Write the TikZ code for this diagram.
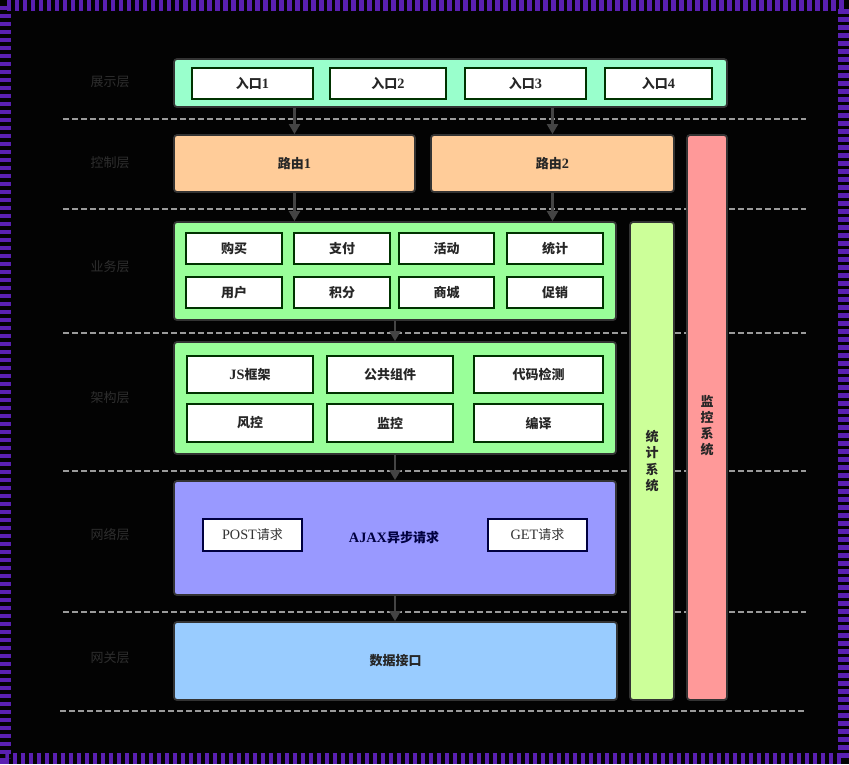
\documentclass[tikz,border=0pt]{standalone}
\usepackage{fontspec}
\setmainfont[Scale=1.1]{Liberation Serif}
\newfontfamily\cjk{Noto Sans CJK SC}
\newcommand{\zh}[1]{{\cjk #1}}
\usetikzlibrary{arrows.meta}
\definecolor{bgblack}{HTML}{030303}
\definecolor{frame}{HTML}{5A20B2}
\definecolor{sepgray}{HTML}{9A9A9A}
\definecolor{mint}{HTML}{99FFCC}
\definecolor{peach}{HTML}{FFCC99}
\definecolor{lgreen}{HTML}{99FF99}
\definecolor{lime}{HTML}{CCFF99}
\definecolor{pink}{HTML}{FF9999}
\definecolor{lav}{HTML}{9999FF}
\definecolor{sky}{HTML}{99CCFF}
\definecolor{edge}{HTML}{333333}
\definecolor{laytxt}{HTML}{2E2E2E}
\definecolor{arrowc}{HTML}{444444}
\tikzset{
  txt/.style={font=\fontsize{13}{16}\selectfont\bfseries, text=black!85},
  cont/.style={draw=edge, line width=1.8pt, rounded corners=3pt, inner sep=0pt, txt},
  ibox/.style={draw=black!80!green, line width=1.8pt, fill=white, inner sep=0pt, txt},
  nbox/.style={draw=black!75!blue, line width=1.8pt, fill=white, inner sep=0pt,
    font=\fontsize{13}{16}\selectfont, text=black!80},
  layer/.style={font=\fontsize{13}{16}\selectfont, text=laytxt},
  sep/.style={draw=sepgray, line width=1.4pt, dash pattern=on 6pt off 3pt},
  arr/.style={draw=arrowc, line width=2.2pt, -{Triangle[length=10pt,width=11pt]}},
}
\begin{document}
\begin{tikzpicture}[x=1pt,y=-1pt]
\useasboundingbox (0,0) rectangle (849,764);
\fill[bgblack] (0,0) rectangle (849,764);
\draw[frame, line width=11pt, dash pattern=on 4.5pt off 3.5pt] (5.5,5.5) rectangle (843.5,758.5);

% separators
\draw[sep] (63,119) -- (806,119);
\draw[sep] (63,209) -- (806,209);
\draw[sep] (63,333) -- (806,333);
\draw[sep] (63,471) -- (806,471);
\draw[sep] (63,612) -- (806,612);
\draw[sep] (60,711) -- (806,711);

% layer labels
\node[layer] (l1) at (110,82) {\zh{展示层}};
\node[layer] (l2) at (110,163) {\zh{控制层}};
\node[layer] (l3) at (110,267) {\zh{业务层}};
\node[layer] (l4) at (110,398) {\zh{架构层}};
\node[layer] (l5) at (110,535) {\zh{网络层}};
\node[layer] (l6) at (110,658) {\zh{网关层}};

% presentation layer
\node[cont, fill=mint, minimum width=553pt, minimum height=48pt] (sc) at (450.5,83) {};
\node[ibox, minimum width=121pt, minimum height=31pt] (e1) at (252.5,83.5) {\zh{入口}1};
\node[ibox, minimum width=116pt, minimum height=31pt] (e2) at (388,83.5) {\zh{入口}2};
\node[ibox, minimum width=121pt, minimum height=31pt] (e3) at (525.5,83.5) {\zh{入口}3};
\node[ibox, minimum width=107pt, minimum height=31pt] (e4) at (658.5,83.5) {\zh{入口}4};

% control layer
\node[cont, fill=peach, minimum width=241pt, minimum height=57pt] (r1) at (294.5,163.5) {\zh{路由}1};
\node[cont, fill=peach, minimum width=243pt, minimum height=57pt] (r2) at (552.5,163.5) {\zh{路由}2};

% side columns
\node[cont, fill=pink, minimum width=40pt, minimum height=565pt] (mon) at (707,417.5) {};
\node[txt, align=center, font=\fontsize{13}{16}\selectfont\bfseries] (monl) at (707,426) {\zh{监}\\\zh{控}\\\zh{系}\\\zh{统}};
\node[cont, fill=lime, minimum width=44pt, minimum height=478pt] (stat) at (652,461) {};
\node[txt, align=center, font=\fontsize{13}{16.5}\selectfont\bfseries] (statl) at (652,461) {\zh{统}\\\zh{计}\\\zh{系}\\\zh{统}};

% business layer
\node[cont, fill=lgreen, minimum width=442pt, minimum height=98pt] (biz) at (395,271) {};
\node[ibox, minimum width=96pt, minimum height=31pt] (b1) at (234,248.5) {\zh{购买}};
\node[ibox, minimum width=96pt, minimum height=31pt] (b2) at (342,248.5) {\zh{支付}};
\node[ibox, minimum width=95pt, minimum height=31pt] (b3) at (446.5,248.5) {\zh{活动}};
\node[ibox, minimum width=96pt, minimum height=31pt] (b4) at (555,248.5) {\zh{统计}};
\node[ibox, minimum width=96pt, minimum height=31pt] (b5) at (234,292.5) {\zh{用户}};
\node[ibox, minimum width=96pt, minimum height=31pt] (b6) at (342,292.5) {\zh{积分}};
\node[ibox, minimum width=95pt, minimum height=31pt] (b7) at (446.5,292.5) {\zh{商城}};
\node[ibox, minimum width=96pt, minimum height=31pt] (b8) at (555,292.5) {\zh{促销}};

% architecture layer
\node[cont, fill=lgreen, minimum width=442pt, minimum height=112pt] (arch) at (395,398) {};
\node[ibox, minimum width=126pt, minimum height=37pt] (a1) at (250,374.5) {JS\zh{框架}};
\node[ibox, minimum width=126pt, minimum height=37pt] (a2) at (390,374.5) {\zh{公共组件}};
\node[ibox, minimum width=129pt, minimum height=37pt] (a3) at (538.5,374.5) {\zh{代码检测}};
\node[ibox, minimum width=126pt, minimum height=38pt] (a4) at (250,423) {\zh{风控}};
\node[ibox, minimum width=126pt, minimum height=38pt] (a5) at (390,423) {\zh{监控}};
\node[ibox, minimum width=129pt, minimum height=38pt] (a6) at (538.5,423) {\zh{编译}};

% network layer
\node[cont, fill=lav, minimum width=442pt, minimum height=114pt] (net) at (395,538) {};
\node[txt, text=black!75!blue] (ajax) at (394,538) {AJAX\zh{异步请求}};
\node[nbox, minimum width=99pt, minimum height=32pt] (post) at (252.5,535) {POST\zh{\mdseries 请求}};
\node[nbox, minimum width=99pt, minimum height=32pt] (get) at (537.5,535) {GET\zh{\mdseries 请求}};

% gateway layer
\node[cont, fill=sky, minimum width=443pt, minimum height=78pt] (gw) at (395.5,661) {\zh{数据接口}};

% arrows
\draw[arr] (sc.south -| r1.north) -- (r1.north);
\draw[arr] (sc.south -| r2.north) -- (r2.north);
\draw[arr] (r1.south) -- (r1.south |- biz.north);
\draw[arr] (r2.south) -- (r2.south |- biz.north);
\draw[arr] (biz.south) -- (arch.north);
\draw[arr] (arch.south) -- (net.north);
\draw[arr] (net.south) -- (net.south |- gw.north);
\end{tikzpicture}
\end{document}
